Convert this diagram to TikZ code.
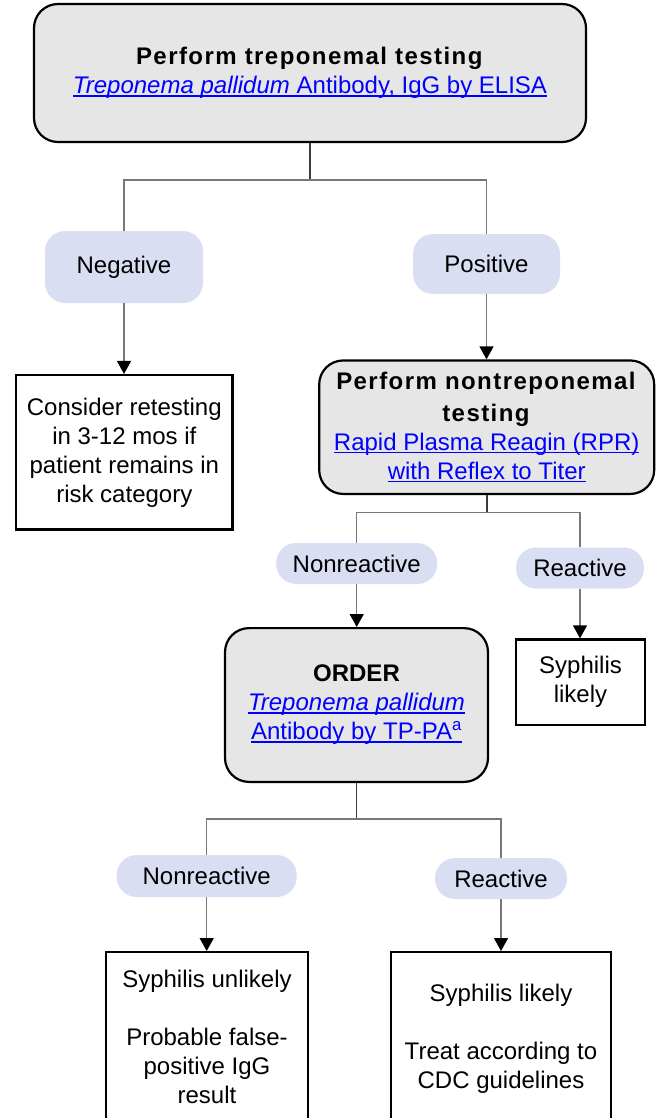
\documentclass[tikz,border=0pt]{standalone}
\usepackage{fontspec}
\setmainfont{Liberation Sans}
\usetikzlibrary{arrows.meta}
\definecolor{pillfill}{RGB}{218,222,242}
\definecolor{boxgray}{RGB}{230,230,230}
\definecolor{linkblue}{RGB}{0,0,255}
\definecolor{stemgray}{RGB}{60,60,60}
\definecolor{branchgray}{RGB}{120,120,120}
\newcommand\lnk[1]{{\color{linkblue}\setbox0\hbox{#1}\rlap{\rule[-2.8pt]{\wd0}{1.2pt}}\box0}}
\newcommand\spacedtxt[1]{{\addfontfeature{LetterSpace=6}#1}}
\begin{document}
\begin{tikzpicture}[x=1pt,y=-1pt,
  every node/.style={font=\fontsize{24}{29}\selectfont, align=center, inner sep=2pt},
  graybox/.style={draw=black, line width=2.2pt, fill=boxgray, rounded corners=24pt},
  whitebox/.style={draw=black, line width=2.2pt, fill=white},
  pill/.style={fill=pillfill, rounded corners=20pt},
  stem/.style={draw=stemgray, line width=1.8pt},
  branch/.style={draw=branchgray, line width=1.4pt},
  arr/.style={draw=branchgray, line width=1.4pt, -{Triangle[width=14pt,length=13pt,color=black]}}
]
\useasboundingbox (0,0) rectangle (663,1118);

\node[graybox, minimum width=552, minimum height=138] (top) at (310,73)
  {\textbf{\spacedtxt{Perform treponemal testing}}\\ \lnk{\textit{Treponema pallidum} Antibody, IgG by ELISA}};

\node[pill, minimum width=158, minimum height=72] (neg) at (124,267) {Negative};
\node[pill, minimum width=147, minimum height=60] (pos) at (486.5,264) {Positive};

\node[whitebox, minimum width=216.5, minimum height=154.5] (cons) at (124.3,452.3)
  {Consider retesting\\in 3-12 mos if\\patient remains in\\risk category};

\node[graybox, minimum width=335, minimum height=133.5] (nontrep) at (486.7,427.2)
  {\textbf{\spacedtxt{Perform nontreponemal}}\\[3pt]\textbf{\spacedtxt{testing}}\\ \lnk{Rapid Plasma Reagin (RPR)}\\ \lnk{with Reflex to Titer}};

\node[pill, minimum width=161, minimum height=41] (nr1) at (356.7,563.5) {Nonreactive};
\node[pill, minimum width=128, minimum height=41] (r1) at (580,568) {Reactive};

\node[graybox, minimum width=263, minimum height=153.8] (order) at (356.5,705)
  {\textbf{ORDER}\\ \lnk{\textit{Treponema pallidum}}\\ \lnk{Antibody by TP-PA\textsuperscript{a}}};
\node[whitebox, minimum width=128.8, minimum height=85.2] (sl1) at (580.5,682) {Syphilis\\likely};

\node[pill, minimum width=180, minimum height=42] (nr2) at (206.7,876) {Nonreactive};
\node[pill, minimum width=132, minimum height=41] (r2) at (501,878.5) {Reactive};

\node[whitebox, anchor=north, inner xsep=0pt, inner ysep=18pt] (unl) at (207,951)
  {\parbox[t][150pt][t]{202pt}{\centering Syphilis unlikely\\[29pt]Probable false-\\positive IgG\\result}};
\node[whitebox, anchor=north, inner xsep=0pt, inner ysep=32pt] (lik) at (501,951)
  {\parbox[t][150pt][t]{220pt}{\centering Syphilis likely\\[29pt]Treat according to\\CDC guidelines}};

% connectors
\path (top.south) ++(0,37) coordinate (j1);
\draw[stem] (top.south) -- (j1);
\draw[branch] (neg.north) |- (j1) -| (pos.north);
\draw[arr] (neg.south) -- (neg.south |- cons.north);
\draw[arr] (pos.south) -- (pos.south |- nontrep.north);

\path (nontrep.south) ++(0,17.7) coordinate (j2);
\draw[stem] (nontrep.south) -- (j2);
\draw[branch] (nr1.north) |- (j2) -| (r1.north);
\draw[arr] (nr1.south) -- (nr1.south |- order.north);
\draw[arr] (r1.south) -- (r1.south |- sl1.north);

\path (order.south) ++(0,36) coordinate (j3);
\draw[stem] (order.south) -- (j3);
\draw[branch] (nr2.north) |- (j3) -| (r2.north);
\draw[arr] (nr2.south) -- (nr2.south |- unl.north);
\draw[arr] (r2.south) -- (r2.south |- lik.north);
\end{tikzpicture}
\end{document}
